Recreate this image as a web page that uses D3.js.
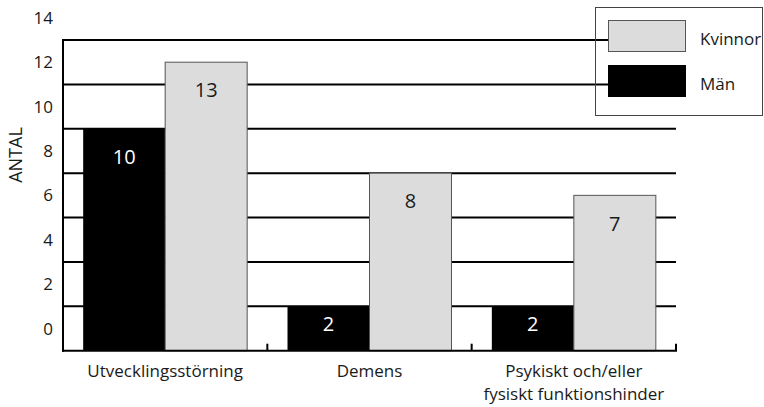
<!DOCTYPE html>
<html>
<head>
<meta charset="utf-8">
<script src="https://cdn.jsdelivr.net/npm/d3@7"></script>
<style>
  body { margin: 0; background: #fff; }
  svg text { font-family: "Open Sans", "Noto Sans", sans-serif; fill: #1a1a1a; }
</style>
</head>
<body>
<div id="chart"></div>
<script>
var width = 764, height = 407;

// data
var categories = ["Utvecklingsstörning", "Demens", "Psykiskt och/eller\nfysiskt funktionshinder"];
var series = ["Män", "Kvinnor"];
var man = [10, 2, 2];
var kvinnor = [13, 8, 7];
var yTicks = [0, 2, 4, 6, 8, 10, 12, 14];

var colors = {"Män": "#000000", "Kvinnor": "#dcdcdc"};

var margin = {top: 40, right: 88, bottom: 56, left: 63};

var svg = d3.select("#chart")
  .append("svg")
  .attr("width", width)
  .attr("height", height);

var x = d3.scaleBand()
  .domain(categories)
  .range([margin.left, width - margin.right]);

var xs = d3.scaleBand()
  .domain(series)
  .range([0, x.bandwidth()])
  .paddingOuter(0.246);

var y = d3.scaleLinear()
  .domain([0, 14])
  .range([height - margin.bottom - 0.3, margin.top]);

var rows = [];
categories.forEach(function(c, i) {
  rows.push({cat: c, s: "Män", v: man[i]});
  rows.push({cat: c, s: "Kvinnor", v: kvinnor[i]});
});

// gridlines
svg.append("g")
  .selectAll("line")
  .data(yTicks.slice(1))
  .enter()
  .append("line")
  .attr("x1", margin.left)
  .attr("x2", width - margin.right)
  .attr("y1", d => y(d))
  .attr("y2", d => y(d))
  .attr("stroke", "#000")
  .attr("stroke-width", 2);

// tick labels (placed half a step above their line, as in the original)
svg.append("g")
  .selectAll("text")
  .data(yTicks)
  .enter()
  .append("text")
  .attr("x", 53)
  .attr("y", d => y(d + 1))
  .attr("dy", "0.36em")
  .attr("text-anchor", "end")
  .style("font-size", "17px")
  .text(d => d);

// bars
var bars = svg.append("g")
  .selectAll("g")
  .data(rows)
  .enter()
  .append("g");

bars.append("rect")
  .attr("x", d => x(d.cat) + xs(d.s))
  .attr("y", d => y(d.v))
  .attr("width", xs.bandwidth())
  .attr("height", d => y(0) - y(d.v))
  .attr("fill", d => colors[d.s])
  .attr("stroke", d => d.s == "Kvinnor" ? "#555" : "none")
  .attr("stroke-width", 1);

bars.append("text")
  .attr("x", d => x(d.cat) + xs(d.s) + xs.bandwidth() / 2)
  .attr("y", function(d) {
    var h = y(0) - y(d.v);
    return y(d.v) + Math.min(28, h / 2 - 5);
  })
  .attr("dy", "0.36em")
  .attr("text-anchor", "middle")
  .style("font-size", "20px")
  .style("fill", d => d.s == "Män" ? "#fff" : "#1a1a1a")
  .text(d => d.v);

// axes
svg.append("line")
  .attr("x1", margin.left).attr("x2", margin.left)
  .attr("y1", y(14) - 1).attr("y2", y(0) + 1)
  .attr("stroke", "#000").attr("stroke-width", 2);

svg.append("line")
  .attr("x1", margin.left - 1).attr("x2", width - margin.right + 1)
  .attr("y1", y(0)).attr("y2", y(0))
  .attr("stroke", "#000").attr("stroke-width", 2);

svg.append("g")
  .selectAll("line")
  .data(categories)
  .enter()
  .append("line")
  .attr("x1", d => x(d) + x.bandwidth())
  .attr("x2", d => x(d) + x.bandwidth())
  .attr("y1", y(0))
  .attr("y2", y(0) - 7)
  .attr("stroke", "#000")
  .attr("stroke-width", 2);

// category labels
var catLabels = svg.append("g")
  .selectAll("text")
  .data(categories)
  .enter()
  .append("text")
  .attr("text-anchor", "middle")
  .style("font-size", "17px");

catLabels.each(function(d) {
  var lines = d.split("\n");
  var t = d3.select(this);
  lines.forEach(function(l, i) {
    t.append("tspan")
      .attr("x", x(d) + x.bandwidth() / 2)
      .attr("y", 377 + i * 23)
      .text(l);
  });
});

// y axis title
svg.append("text")
  .attr("transform", "translate(22,155) rotate(-90)")
  .attr("text-anchor", "middle")
  .style("font-size", "18px")
  .text("ANTAL");

// legend
var legend = svg.append("g");

legend.append("rect")
  .attr("x", 595.5).attr("y", 7.5)
  .attr("width", 167).attr("height", 108)
  .attr("fill", "none")
  .attr("stroke", "#444")
  .attr("stroke-width", 1);

var legendItems = ["Kvinnor", "Män"];
var li = legend.selectAll(".item")
  .data(legendItems)
  .enter()
  .append("g")
  .attr("class", "item")
  .attr("transform", (d, i) => "translate(608," + (20 + i * 45) + ")");

li.append("rect")
  .attr("x", 0.5).attr("y", 0.5)
  .attr("width", 77).attr("height", 31)
  .attr("fill", d => colors[d])
  .attr("stroke", d => d == "Kvinnor" ? "#555" : "#000");

li.append("text")
  .attr("x", 92)
  .attr("y", 19)
  .attr("dy", "0.36em")
  .style("font-size", "17px")
  .text(d => d);
</script>
</body>
</html>
